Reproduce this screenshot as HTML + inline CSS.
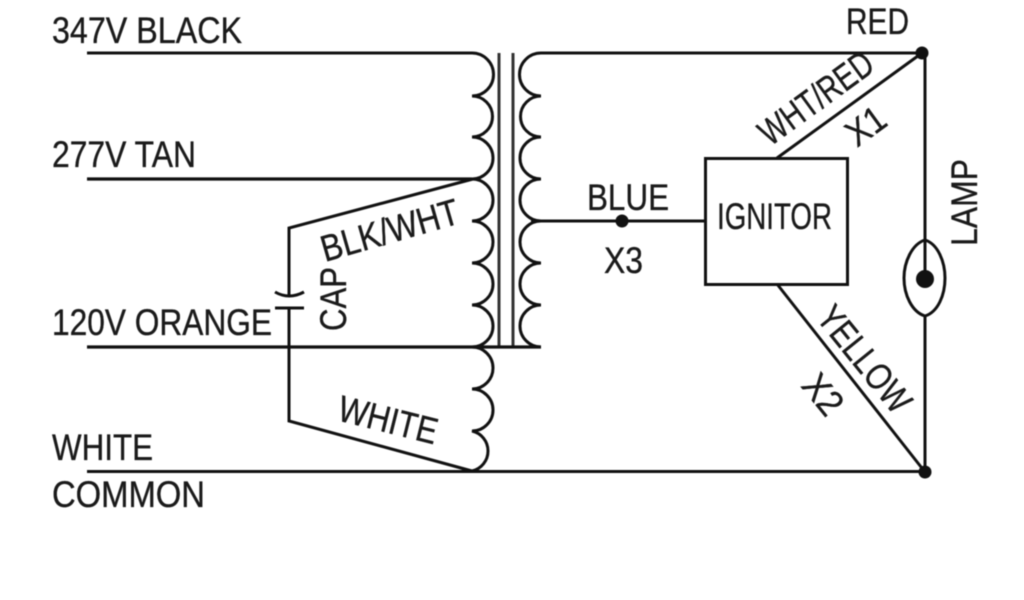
<!DOCTYPE html>
<html><head><meta charset="utf-8"><style>
html,body{margin:0;padding:0;background:#fff;width:1024px;height:600px;overflow:hidden}
svg{display:block;filter:blur(.45px)}
text{font-family:"Liberation Sans",sans-serif;fill:#1a1a1a;stroke:#1a1a1a;stroke-width:.35px;font-size:37px}
</style></head><body>
<svg width="1024" height="600" viewBox="0 0 1024 600" xmlns="http://www.w3.org/2000/svg">
<g fill="none" stroke="#111" stroke-width="3">
<path d="M87 53H472A21.500 21.500 0 0 1 472 96A20.500 20.500 0 0 1 472 137A20.500 20.500 0 0 1 472 179A21 21 0 0 1 472 221A21 21 0 0 1 472 263A21 21 0 0 1 472 305A20.500 20.500 0 0 1 472 347A21 21 0 0 1 472 389A21 21 0 0 1 472 431A20.500 20.500 0 0 1 472 471"/>
<path d="M924 53H541A21.500 21.500 0 0 0 541 96A20.500 20.500 0 0 0 541 137A20.500 20.500 0 0 0 541 179A21 21 0 0 0 541 221A21 21 0 0 0 541 263A21 21 0 0 0 541 305A20.500 20.500 0 0 0 541 347"/>
<path d="M499 53V346M513 53V346" stroke="#333"/>
<path d="M87 179H472M87 347H541" stroke-width="3.200"/>
<path d="M87 471.500H924"/>
<path d="M473 179L289 228V296M289 308V421L472 471"/>
<path d="M531 221H705"/>
<rect x="705.500" y="158.500" width="142" height="126"/>
<path d="M777 158L922 53M777 284L925 472"/>
<path d="M925 53V279M925 316V472"/>
<path d="M925 240C912 244 904 262 904 278C904 295 912 312 925 316C938 312 945 295 945 278C945 262 938 244 925 240Z"/>
<path d="M275 292Q289 300 304 292M275 308H304"/>
</g>
<circle cx="922" cy="53" r="6.500" fill="#111"/>
<circle cx="925" cy="472" r="6.500" fill="#111"/>
<circle cx="925" cy="279" r="9" fill="#111"/>
<circle cx="622" cy="221" r="6.500" fill="#111"/>
<text x="52" y="43" textLength="190" lengthAdjust="spacingAndGlyphs">347V BLACK</text>
<text x="52" y="167" textLength="144" lengthAdjust="spacingAndGlyphs">277V TAN</text>
<text x="52" y="335" textLength="220" lengthAdjust="spacingAndGlyphs">120V ORANGE</text>
<text x="52" y="460" textLength="101" lengthAdjust="spacingAndGlyphs">WHITE</text>
<text x="52" y="507" textLength="153" lengthAdjust="spacingAndGlyphs">COMMON</text>
<text x="846" y="34" textLength="63" lengthAdjust="spacingAndGlyphs">RED</text>
<text x="587" y="210" textLength="82" lengthAdjust="spacingAndGlyphs">BLUE</text>
<text x="604" y="273" textLength="39" lengthAdjust="spacingAndGlyphs">X3</text>
<text x="717" y="229" textLength="115" lengthAdjust="spacingAndGlyphs">IGNITOR</text>
<text transform="translate(977,246) rotate(-90)" textLength="87" lengthAdjust="spacingAndGlyphs">LAMP</text>
<text transform="translate(346,331) rotate(-90)" textLength="64" lengthAdjust="spacingAndGlyphs">CAP</text>
<text transform="translate(325,262) rotate(-16)" textLength="142" lengthAdjust="spacingAndGlyphs">BLK/WHT</text>
<text transform="translate(336,420) rotate(14)" textLength="101" lengthAdjust="spacingAndGlyphs">WHITE</text>
<text transform="translate(770,147) rotate(-36)" textLength="132" lengthAdjust="spacingAndGlyphs">WHT/RED</text>
<text transform="translate(857,148) rotate(-36)" textLength="40" lengthAdjust="spacingAndGlyphs">X1</text>
<text transform="translate(815,318) rotate(51)" textLength="126" lengthAdjust="spacingAndGlyphs">YELLOW</text>
<text transform="translate(800,386) rotate(51)" textLength="42" lengthAdjust="spacingAndGlyphs">X2</text>
</svg>
</body></html>
